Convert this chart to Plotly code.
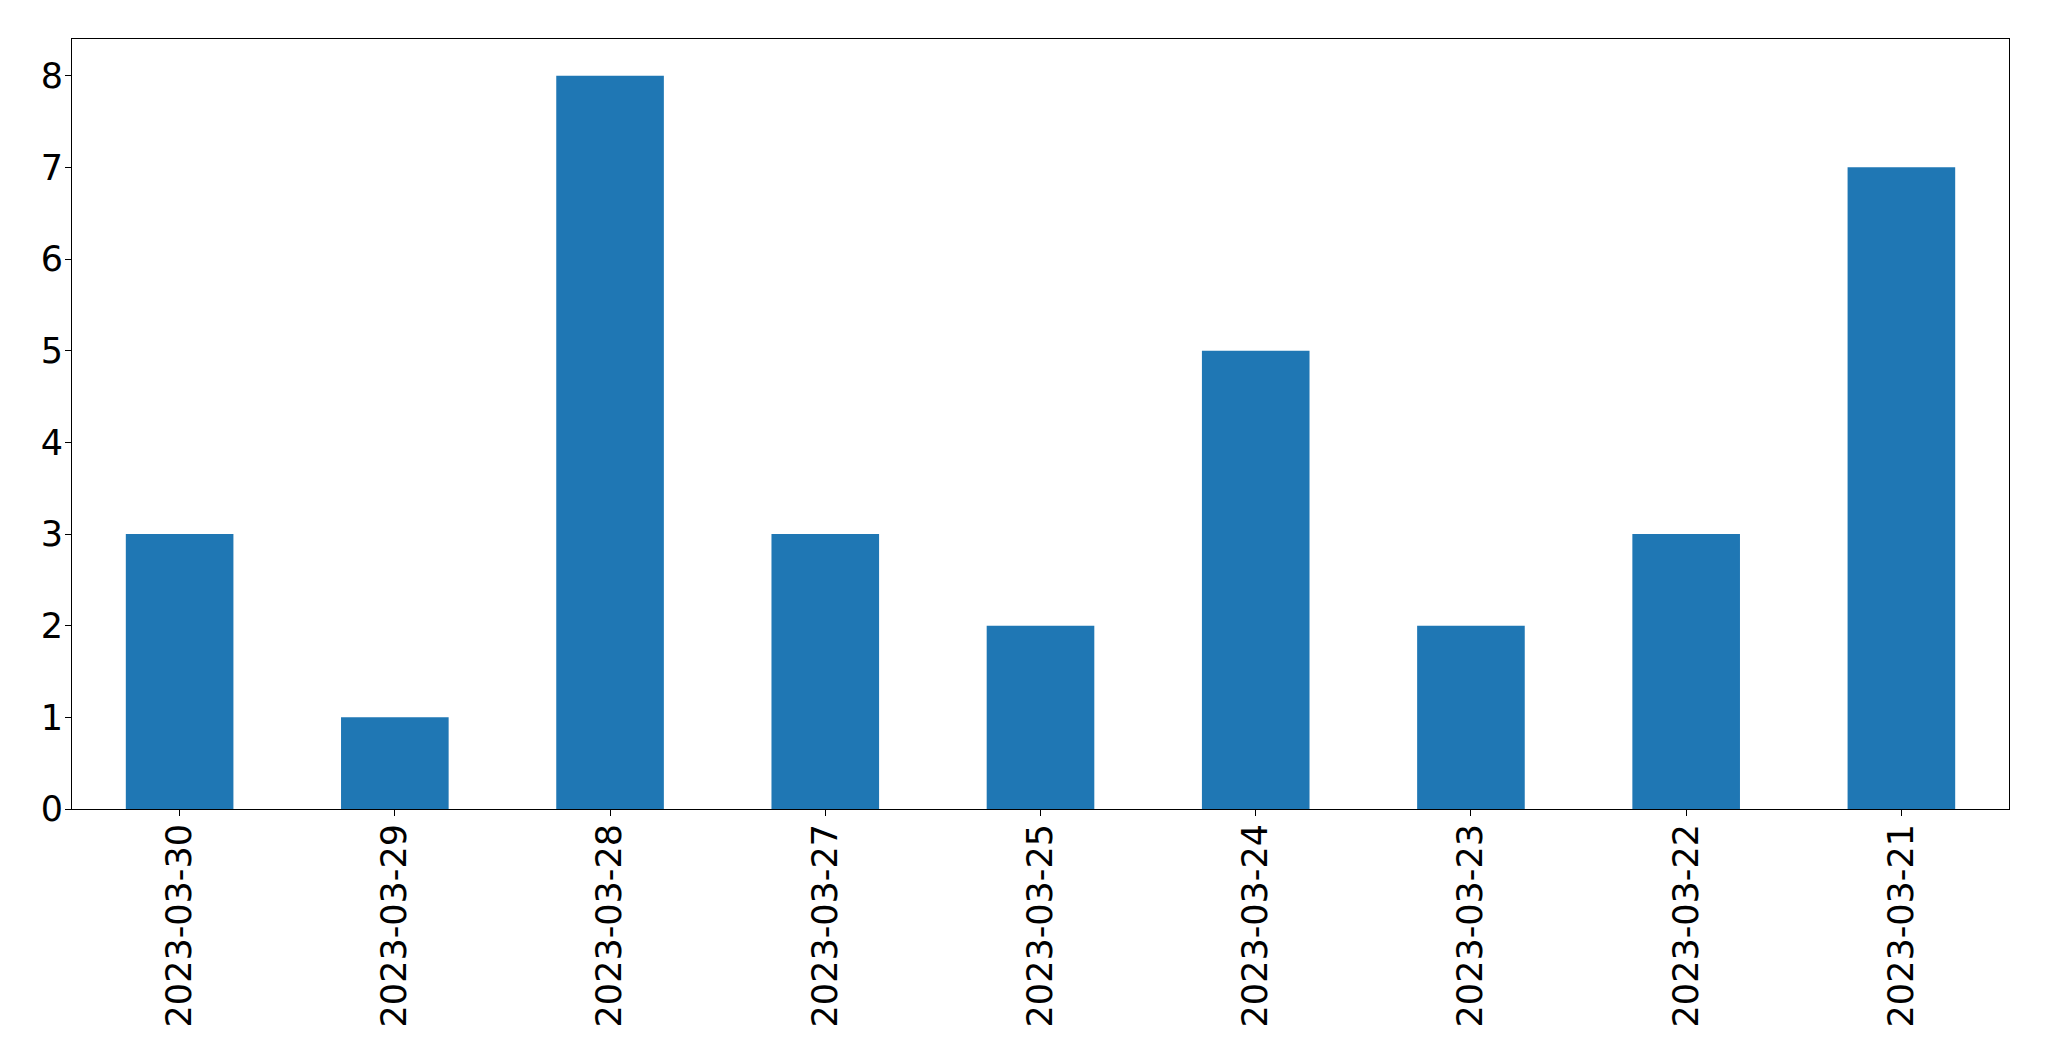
import plotly.graph_objects as go

dates = ["2023-03-30", "2023-03-29", "2023-03-28", "2023-03-27", "2023-03-25",
         "2023-03-24", "2023-03-23", "2023-03-22", "2023-03-21"]
counts = [3, 1, 8, 3, 2, 5, 2, 3, 7]
y_ticks = [0, 1, 2, 3, 4, 5, 6, 7, 8]

fig = go.Figure(go.Bar(x=dates, y=counts, marker=dict(color="#1f77b4", line=dict(width=0)), width=0.5))

fig.update_layout(
    width=2041, height=1053,
    margin=dict(l=64, r=40, t=31, b=252),
    plot_bgcolor="white", paper_bgcolor="white",
    font=dict(family="DejaVu Sans", size=35, color="black"),
    showlegend=False,
)
fig.update_xaxes(
    type="category", range=[-0.5, 8.5], tickangle=-90,
    showline=True, linecolor="black", linewidth=1, mirror=True,
    ticks="outside", ticklen=6, tickcolor="black", showgrid=False,
    ticklabelstandoff=-6,
)
fig.update_yaxes(
    range=[0, 8.4], tickvals=y_ticks,
    showline=True, linecolor="black", linewidth=1, mirror=True,
    ticks="outside", ticklen=6, tickcolor="black", showgrid=False, zeroline=False,
    ticklabelstandoff=-5,
)
fig.write_html("out.html")
